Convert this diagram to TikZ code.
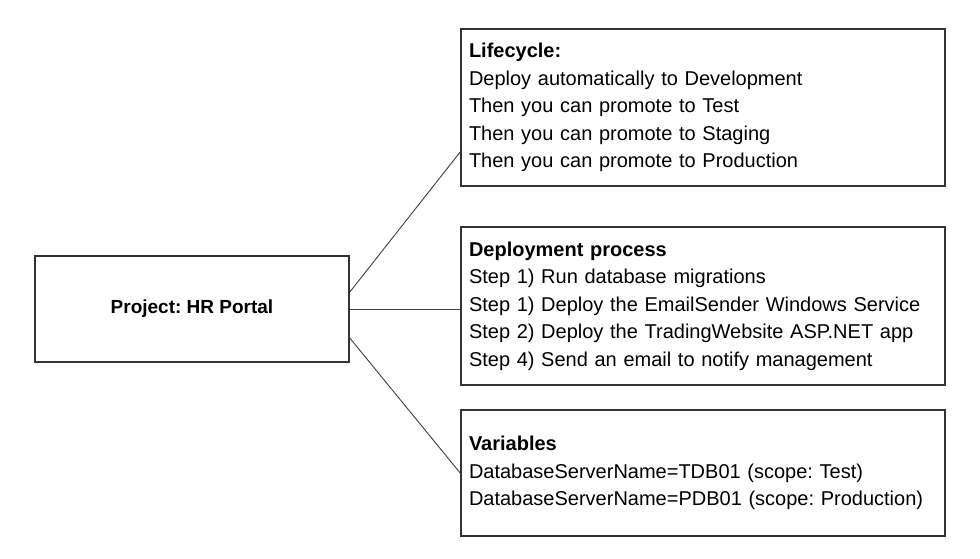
\documentclass[tikz,border=0pt]{standalone}
\usepackage{fontspec}
\setmainfont{Liberation Sans}
\frenchspacing
\begin{document}
\begin{tikzpicture}[x=1pt,y=-1pt,
  box/.style={draw=black!80,line width=1.6pt,rectangle,inner xsep=8pt,inner ysep=0pt,
    align=left,font=\fontsize{20}{27.5}\selectfont},
  conn/.style={draw=black!75,line width=0.9pt}]
\useasboundingbox[fill=white] (0,0) rectangle (980,558);
\node[box,minimum width=314pt,minimum height=106pt,align=center,
  font=\fontsize{19}{24}\selectfont\bfseries] (proj) at (192,309) {Project: HR Portal};
\node[box,text width=468pt,minimum height=157pt] (life) at (703,107.5)
  {\textbf{Lifecycle:}\\
   Deploy automatically to Development\\
   Then you can promote to Test\\
   Then you can promote to Staging\\
   Then you can promote to Production};
\node[box,text width=468pt,minimum height=158pt] (dep) at (703,306)
  {\textbf{Deployment process}\\
   Step 1) Run database migrations\\
   Step 1) Deploy the EmailSender Windows Service\\
   Step 2) Deploy the TradingWebsite ASP.NET app\\
   Step 4) Send an email to notify management};
\node[box,text width=468pt,minimum height=126pt] (var) at (703,473)
  {\textbf{Variables}\\
   DatabaseServerName=TDB01 (scope: Test)\\
   DatabaseServerName=PDB01 (scope: Production)};
\draw[conn] ([yshift=17pt]proj.east) -- ([yshift=-44.5pt]life.west);
\draw[conn] (proj.east) -- (proj.east -| dep.west);
\draw[conn] ([yshift=-29pt]proj.east) -- (var.west);
\end{tikzpicture}
\end{document}
